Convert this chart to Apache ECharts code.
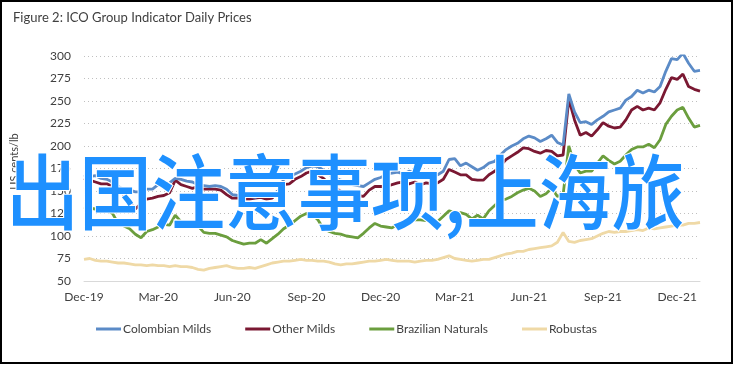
<!DOCTYPE html>
<html>
<head>
<meta charset="utf-8">
<script src="https://cdn.jsdelivr.net/npm/echarts@6/dist/echarts.min.js"></script>
<style>
html,body{margin:0;padding:0;background:#fff;}
#chart{width:736px;height:365px;}
</style>
</head>
<body>
<div id="chart"></div>
<script>
// Weekly readings, week 0 = early Dec 2019, 13 weeks per quarter
const tickLabels = ['Dec-19','Mar-20','Jun-20','Sep-20','Dec-20','Mar-21','Jun-21','Sep-21','Dec-21'];
const seriesNames = ['Colombian Milds','Other Milds','Brazilian Naturals','Robustas'];

const colombianMilds = [168,166,167,164,163,160,155,152,151,149,149,152,152,157,155,159,164,163,161,160,157,156,155,156,155,152,146,145,144,144,143,145,144,146,150,163,166,169,172,176,178,177,173,168,165,162,160,157,156,155,159,163,165,168,170,171,169,172,170,168,169,167,168,172,185,186,178,181,177,173,176,181,183,190,196,200,203,208,211,209,205,208,212,204,201,258,238,226,227,224,229,233,238,240,242,251,255,262,259,262,260,266,283,297,296,303,292,283,284];
const otherMilds = [164,162,160,158,158,155,149,146,137,130,136,141,142,144,145,148,162,157,155,153,155,152,152,152,151,146,142,142,141,141,142,143,141,142,150,157,158,163,166,170,172,168,164,158,153,150,148,146,145,144,151,155,155,155,157,159,160,158,160,157,159,158,159,163,174,171,168,168,163,162,162,168,172,178,185,189,193,198,197,194,192,195,194,189,190,252,229,212,215,211,218,226,222,220,221,229,240,244,240,242,240,248,263,276,274,280,266,263,261];
const brazilianNaturals = [132,131,130,129,129,125,114,111,108,102,98,105,107,110,113,112,123,116,114,115,111,104,103,103,101,99,95,93,91,92,92,96,92,97,102,108,112,117,122,125,124,118,108,105,103,102,100,99,98,103,109,114,111,110,109,113,115,116,118,118,117,118,116,122,128,126,126,124,119,123,119,128,134,140,141,144,148,151,153,150,144,147,153,144,146,200,179,170,172,172,181,189,184,180,183,190,196,199,199,202,198,207,224,233,240,243,231,221,223];
const robustas = [74,75,73,72,72,71,70,70,69,68,68,67,68,67,67,66,67,66,66,65,63,62,64,65,66,67,65,64,64,65,64,66,68,70,71,72,72,73,74,73,73,72,72,71,69,68,69,69,70,71,72,72,73,74,73,72,72,72,71,72,73,73,74,76,78,75,74,73,72,73,74,74,76,78,80,81,83,83,85,86,87,88,89,93,104,94,93,95,96,97,100,103,105,104,105,105,106,107,106,109,108,109,110,111,112,112,114,114,115];

const colors = ['#5b8bc7','#7a1832','#6b9e3e','#efd9a6'];
const allData = [colombianMilds, otherMilds, brazilianNaturals, robustas];

const chart = echarts.init(document.getElementById('chart'), null, {renderer:'canvas'});
const FONT = 'Lato';
const option = {
  animation: false,
  backgroundColor: '#fff',
  title: {
    text: 'Figure 2: ICO Group Indicator Daily Prices',
    left: 8, top: 6,
    textStyle: {fontFamily: FONT, fontSize: 13, fontWeight: 'normal', color: '#404040'}
  },
  grid: {left: 84, top: 56, width: 616, height: 225, containLabel: false},
  xAxis: {
    type: 'value', min: 0, max: 108, interval: 13,
    axisLine: {show: true, lineStyle: {color: '#d9d9d9', width: 1}},
    axisTick: {show: false},
    splitLine: {show: false},
    axisLabel: {
      fontFamily: FONT, fontSize: 12, color: '#404040', margin: 10,
      showMaxLabel: false,
      formatter: function (v) { return (v % 13 === 0) ? (tickLabels[v / 13] || '') : ''; }
    }
  },
  yAxis: {
    type: 'value', min: 50, max: 300, interval: 25,
    name: 'US cents/lb', nameLocation: 'middle', nameGap: 64,
    nameTextStyle: {fontFamily: FONT, fontSize: 11, color: '#404040', padding: [0, 0, 0, 14]},
    axisLine: {show: false}, axisTick: {show: false},
    axisLabel: {fontFamily: FONT, fontSize: 12, color: '#404040', margin: 13},
    splitLine: {lineStyle: {color: '#c0c0c0', type: [1, 3], width: 1}}
  },
  legend: {
    left: 91, top: 318, itemGap: 34, itemWidth: 25, itemHeight: 3, icon: 'rect',
    textStyle: {fontFamily: FONT, fontSize: 12, color: '#404040', padding: [0, 0, 0, -3]},
    data: seriesNames
  },
  series: seriesNames.map((name, i) => ({
    name: name, type: 'line', showSymbol: false, symbol: 'none',
    data: allData[i].map((v, w) => [w, v]),
    lineStyle: {color: colors[i], width: 2.8},
    itemStyle: {color: colors[i]},
    z: 10 - i
  })),
  graphic: [
    {type: 'rect', shape: {x: 1, y: 1, width: 731, height: 362}, style: {fill: 'none', stroke: '#000', lineWidth: 2}, z: 200},
    {type: 'text', x: 6, y: 151, scaleY: 1.12, z: 300,
     style: {text: '出国注意事项,上海旅', x: 0, y: 0, verticalAlign: 'top',
             font: '500 73px "Noto Sans CJK SC"', fill: '#1e90ff', stroke: '#fff', lineWidth: 2}}
  ]
};
chart.setOption(option);
</script>
</body>
</html>
